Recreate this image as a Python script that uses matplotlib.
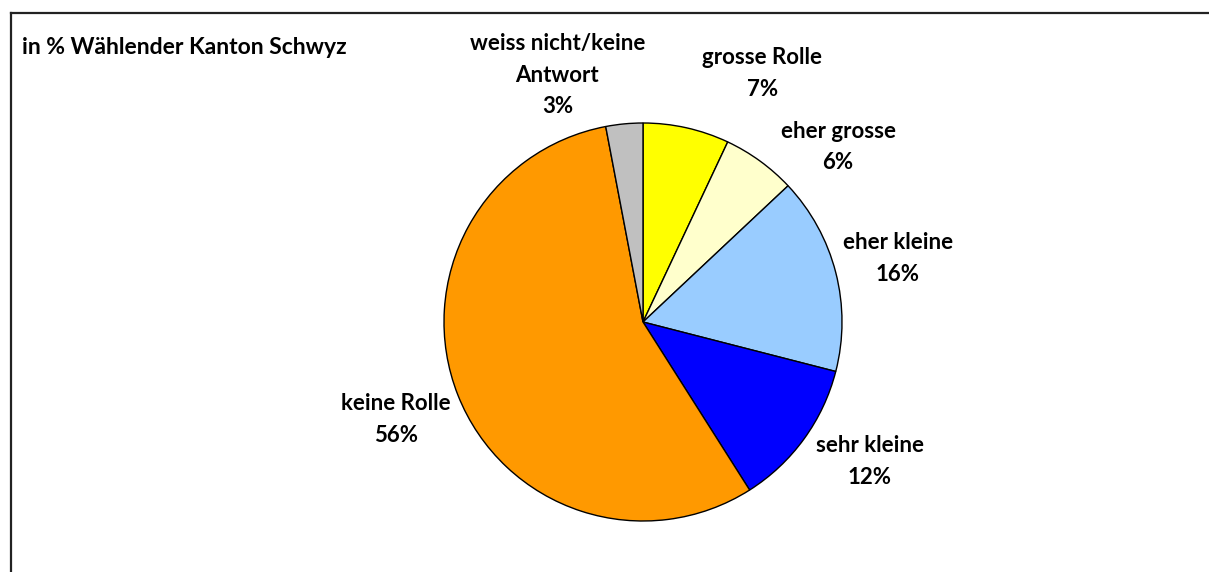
import matplotlib
matplotlib.use("Agg")
import matplotlib.pyplot as plt
from matplotlib.lines import Line2D

# Anteile, im Uhrzeigersinn ab 12 Uhr
labels = ["grosse Rolle", "eher grosse", "eher kleine", "sehr kleine",
          "keine Rolle", "weiss nicht/keine\nAntwort"]
values = [7, 6, 16, 12, 56, 3]
colors = ["#FFFF00", "#FFFFCC", "#99CCFF", "#0000FF", "#FF9900", "#C0C0C0"]

# Lage der Beschriftungen relativ zur Kuchenmitte (in Radien)
label_pos = [(0.60, 1.25), (0.98, 0.88), (1.28, 0.32), (1.14, -0.70),
             (-1.24, -0.49), (-0.43, 1.24)]

W, H = 1209, 572
cx, cy, r = 643, 322, 199

plt.rcParams['font.family'] = ['Lato', 'DejaVu Sans']

fig = plt.figure(figsize=(W / 100, H / 100), dpi=100)
ax = fig.add_axes([0, 0, 1, 1])

ax.pie(values, colors=colors, startangle=90, counterclock=False,
       wedgeprops=dict(edgecolor="black", linewidth=1.0))

ax.set_xlim(-cx / r, (W - cx) / r)
ax.set_ylim((cy - H) / r, cy / r)
ax.set_aspect("auto")
ax.axis("off")

for lab, val, (lx, ly) in zip(labels, values, label_pos):
    ax.text(lx, ly, f"{lab}\n{val}%", ha="center", va="center",
            fontsize=16, fontweight="bold", linespacing=1.62)

fig.text(22 / W, 1 - 47 / H, "in % Wählender Kanton Schwyz", ha="left",
         va="center", fontsize=16.5, fontweight="bold")

# Rahmen oben und links
fig.add_artist(Line2D([10.5 / W, 1], [1 - 12.5 / H, 1 - 12.5 / H],
                      transform=fig.transFigure, color="#222222", lw=1.6))
fig.add_artist(Line2D([10.5 / W, 10.5 / W], [0, 1 - 12.5 / H],
                      transform=fig.transFigure, color="#222222", lw=1.6))

fig.savefig("out.png", dpi=100)
